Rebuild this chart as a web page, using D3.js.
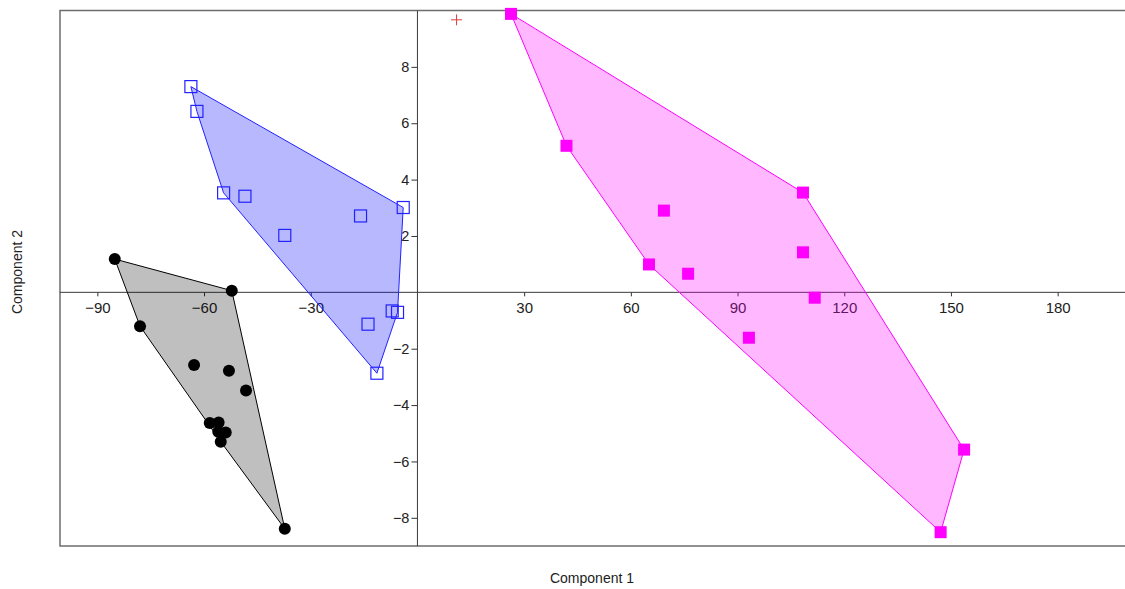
<!DOCTYPE html>
<html>
<head>
<meta charset="utf-8">
<script src="https://cdn.jsdelivr.net/npm/d3@7"></script>
<style>
  body { margin: 0; background: #fff; }
  text { font-family: "Liberation Sans", Arial, sans-serif; }
</style>
</head>
<body>
<svg></svg>
<script>
'use strict';

// group 1: black dots
var group1X = [-85.1, -52.2, -78.0, -62.8, -53.0, -48.2, -58.4, -55.9, -56.0, -53.9, -55.3, -37.3];
var group1Y = [1.18, 0.06, -1.20, -2.58, -2.78, -3.48, -4.64, -4.62, -4.95, -4.97, -5.30, -8.39];

// group 2: blue open squares
var group2X = [-63.7, -62.0, -54.5, -48.5, -37.3, -16.0, -4.0, -7.1, -5.6, -13.9, -11.4];
var group2Y = [7.30, 6.42, 3.53, 3.41, 2.02, 2.71, 3.01, -0.66, -0.71, -1.13, -2.87];

// group 3: magenta filled squares
var group3X = [26.3, 41.9, 108.4, 69.3, 65.1, 76.1, 108.4, 111.7, 93.2, 153.7, 147.1];
var group3Y = [9.88, 5.20, 3.54, 2.90, 0.99, 0.66, 1.42, -0.19, -1.61, -5.58, -8.51];

// group 4: single red cross
var group4X = [11.0];
var group4Y = [9.67];

var xTicks = [-90, -60, -30, 30, 60, 90, 120, 150, 180];
var yTicks = [-8, -6, -4, -2, 2, 4, 6, 8];

var canvasWidth = 1125;
var canvasHeight = 589;
var plot = { left: 60, top: 10.5, right: 1127, bottom: 546 };

var svg = d3.select('svg')
  .attr('width', canvasWidth)
  .attr('height', canvasHeight);

var xScale = d3.scaleLinear()
  .domain([-100.5, 199.5])
  .range([plot.left, plot.right]);

var yScale = d3.scaleLinear()
  .domain([-9, 10])
  .range([plot.bottom, plot.top]);

function zip(xs, ys) {
  return xs.map(function(x, i) { return [x, ys[i]]; });
}

var groups = [
  { pts: zip(group1X, group1Y), stroke: '#000', fill: 'rgba(0,0,0,0.25)', shape: 'circle' },
  { pts: zip(group2X, group2Y), stroke: '#2222ff', fill: 'rgba(0,0,255,0.28)', shape: 'open' },
  { pts: zip(group3X, group3Y), stroke: '#ff00ff', fill: 'rgba(255,0,255,0.28)', shape: 'square' },
  { pts: zip(group4X, group4Y), stroke: '#e03c3c', fill: 'none', shape: 'cross' }
];

// frame
svg.append('rect')
  .attr('x', plot.left)
  .attr('y', plot.top)
  .attr('width', plot.right - plot.left)
  .attr('height', plot.bottom - plot.top)
  .attr('fill', 'none')
  .attr('stroke', '#6e6e6e')
  .attr('stroke-width', 1.5);

// axes through origin
var x0 = xScale(0), y0 = yScale(0);
var xAxis = svg.append('g')
  .attr('transform', 'translate(0,' + y0 + ')')
  .call(d3.axisBottom(xScale).tickValues(xTicks).tickSize(4).tickSizeOuter(0).tickPadding(6));
xAxis.select('.domain').remove();
xAxis.selectAll('.tick text').style('font-size', '15px');

var yAxis = svg.append('g')
  .attr('transform', 'translate(' + x0 + ',0)')
  .call(d3.axisLeft(yScale).tickValues(yTicks).tickSize(6).tickSizeOuter(0).tickPadding(2));
yAxis.select('.domain').remove();
yAxis.selectAll('.tick text').style('font-size', '14.5px');

svg.selectAll('.tick text').attr('fill', '#222');
svg.selectAll('.tick line').attr('stroke', '#333');

svg.append('line')
  .attr('x1', plot.left).attr('x2', plot.right)
  .attr('y1', y0).attr('y2', y0)
  .attr('stroke', '#3a3a3a');
svg.append('line')
  .attr('x1', x0).attr('x2', x0)
  .attr('y1', plot.top).attr('y2', plot.bottom)
  .attr('stroke', '#3a3a3a');

// convex hulls
groups.forEach(function(g) {
  if (g.pts.length < 3) return;
  var hull = d3.polygonHull(g.pts.map(function(p) { return [xScale(p[0]), yScale(p[1])]; }));
  svg.append('path')
    .attr('d', 'M' + hull.join('L') + 'Z')
    .attr('fill', g.fill)
    .attr('stroke', g.stroke)
    .attr('stroke-width', 1);
});

// points
groups.forEach(function(g) {
  var sel = svg.append('g').selectAll('.pt').data(g.pts).enter();
  if (g.shape == 'circle') {
    sel.append('circle')
      .attr('cx', function(d) { return xScale(d[0]); })
      .attr('cy', function(d) { return yScale(d[1]); })
      .attr('r', 6)
      .attr('fill', '#000');
  } else if (g.shape == 'open') {
    sel.append('rect')
      .attr('x', function(d) { return xScale(d[0]) - 6; })
      .attr('y', function(d) { return yScale(d[1]) - 6; })
      .attr('width', 12).attr('height', 12)
      .attr('fill', 'none')
      .attr('stroke', g.stroke)
      .attr('stroke-width', 1.2);
  } else if (g.shape == 'square') {
    sel.append('rect')
      .attr('x', function(d) { return xScale(d[0]) - 6; })
      .attr('y', function(d) { return yScale(d[1]) - 6; })
      .attr('width', 12).attr('height', 12)
      .attr('fill', g.stroke);
  } else {
    sel.append('path')
      .attr('d', function(d) {
        var cx = xScale(d[0]), cy = yScale(d[1]);
        return 'M' + (cx - 5.5) + ',' + cy + 'H' + (cx + 5.5) + 'M' + cx + ',' + (cy - 5.5) + 'V' + (cy + 5.5);
      })
      .attr('stroke', g.stroke)
      .attr('stroke-width', 1);
  }
});

// axis titles
svg.append('text')
  .attr('x', 592)
  .attr('y', 583)
  .attr('text-anchor', 'middle')
  .style('font-size', '14px')
  .attr('fill', '#222')
  .text('Component 1');

svg.append('text')
  .attr('transform', 'translate(22,272) rotate(-90)')
  .attr('text-anchor', 'middle')
  .style('font-size', '14px')
  .attr('fill', '#222')
  .text('Component 2');
</script>
</body>
</html>
